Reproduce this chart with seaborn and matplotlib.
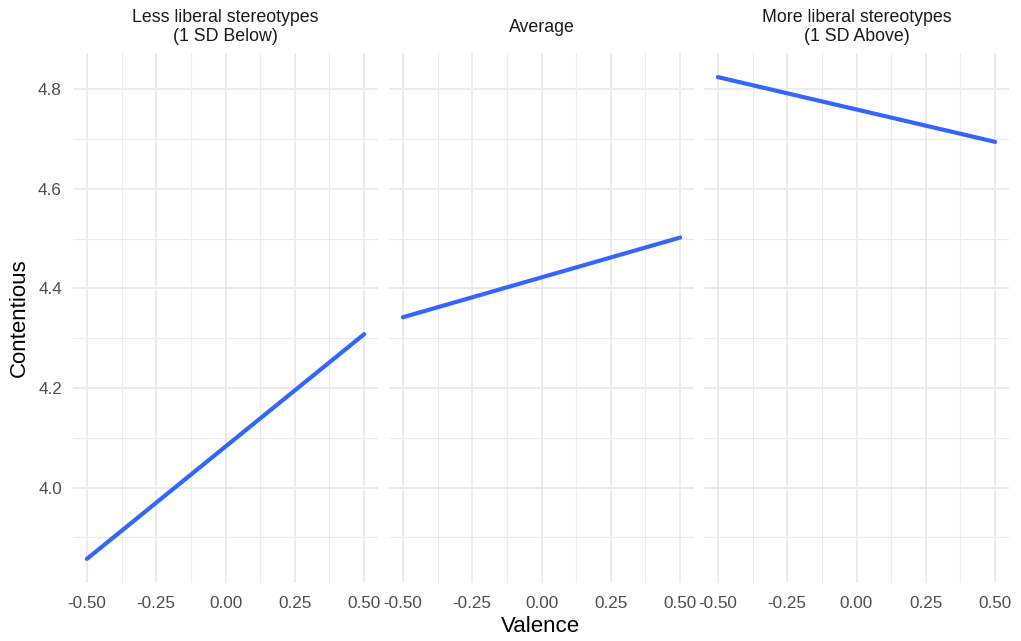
import matplotlib
matplotlib.use("Agg")
import matplotlib.pyplot as plt
import seaborn as sns
import numpy as np
import pandas as pd

# Fitted simple slopes of valence at three levels of the moderator
panels = ["Less liberal stereotypes\n(1 SD Below)", "Average", "More liberal stereotypes\n(1 SD Above)"]
valence = [-0.5, 0.5]
contentious_low = [3.857, 4.308]
contentious_avg = [4.342, 4.502]
contentious_high = [4.824, 4.694]

x_ticks = [-0.50, -0.25, 0.00, 0.25, 0.50]
y_ticks = [4.0, 4.2, 4.4, 4.6, 4.8]

sns.set_theme(style="white")
plt.rcParams["font.family"] = ["Liberation Sans", "DejaVu Sans"]

df = pd.DataFrame({
    "panel": np.repeat(panels, len(valence)),
    "Valence": valence * 3,
    "Contentious": contentious_low + contentious_avg + contentious_high,
})

W, H = 1021, 641
fig = plt.figure(figsize=(W / 100, H / 100), dpi=100)
fig.patch.set_facecolor("white")

lefts = [73, 389, 704]
pw = 305
top, bottom = 53, 583

all_y = df["Contentious"]
yr = all_y.max() - all_y.min()
ylim = (all_y.min() - 0.05 * yr, all_y.max() + 0.05 * yr)
xlim = (-0.55, 0.55)

grid_col = "#EBEBEB"
for i, (name, left) in enumerate(zip(panels, lefts)):
    ax = fig.add_axes([left / W, 1 - bottom / H, pw / W, (bottom - top) / H])
    sub = df[df["panel"] == name]
    sns.lineplot(data=sub, x="Valence", y="Contentious", ax=ax,
                 color="#3366FF", linewidth=3.0, zorder=3)
    ax.set_xlim(*xlim)
    ax.set_ylim(*ylim)
    for s in ax.spines.values():
        s.set_visible(False)
    # major and minor grid
    ax.set_xticks(x_ticks)
    ax.set_yticks(y_ticks)
    ax.set_xticks([-0.375, -0.125, 0.125, 0.375], minor=True)
    ax.set_yticks([3.9, 4.1, 4.3, 4.5, 4.7], minor=True)
    ax.grid(True, which="major", color=grid_col, linewidth=1.4, zorder=0)
    ax.grid(True, which="minor", color=grid_col, linewidth=0.8, zorder=0)
    ax.tick_params(which="both", length=0)
    ax.set_xticklabels([f"{v:.2f}" for v in x_ticks], fontsize=12.3, color="#4D4D4D")
    ax.tick_params(axis="x", pad=9)
    if i == 0:
        ax.set_yticklabels([f"{v:.1f}" for v in y_ticks], fontsize=12.3, color="#4D4D4D")
        ax.tick_params(axis="y", pad=8)
    else:
        ax.set_yticklabels([])
    ax.set_xlabel("")
    ax.set_ylabel("")
    # facet strip label
    strip_y = 1 + (top - 27) / (bottom - top)
    ax.text(0.5, strip_y, name, transform=ax.transAxes, ha="center", va="center",
            fontsize=12.8, color="#1A1A1A", linespacing=1.15)

fig.text(540 / W, 1 - 627 / H, "Valence", ha="center", va="center",
         fontsize=16, color="black")
fig.text(19 / W, 1 - 318 / H, "Contentious", ha="center", va="center",
         rotation=90, fontsize=16, color="black")

fig.savefig("out.png", dpi=100, facecolor="white")
